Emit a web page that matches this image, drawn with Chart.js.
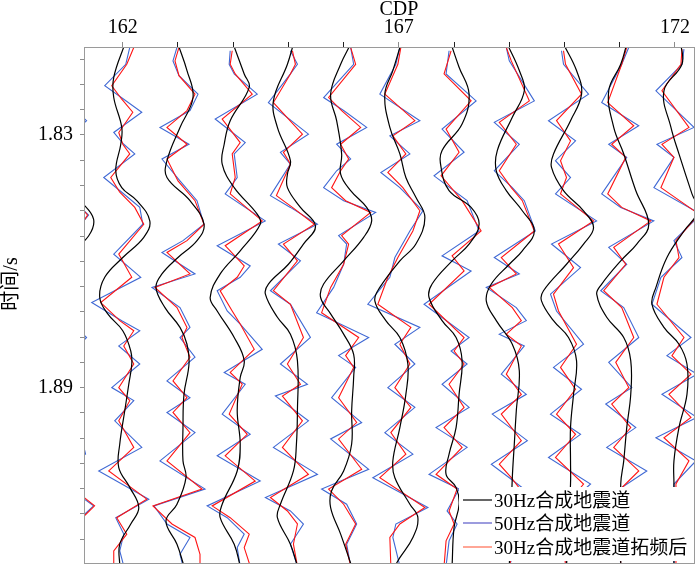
<!DOCTYPE html>
<html>
<head>
<meta charset="utf-8">
<script src="https://cdn.jsdelivr.net/npm/chart.js@4.4.1/dist/chart.umd.min.js"></script>
<style>
  html, body { margin: 0; padding: 0; background: #fff; }
  #wrap { width: 700px; height: 567px; }
</style>
</head>
<body>
<div id="wrap"><canvas id="chart" width="700" height="567"></canvas></div>
<script>
// CDP positions of the traces (161 only shows at the left edge)
const cdps = [161, 162, 163, 164, 165, 166, 167, 168, 169, 170, 171, 172];
const cdpTicks = [162, 163, 164, 165, 166, 167, 168, 169, 170, 171, 172];
const cdpLabels = [162, 167, 172];
const timeTicks = [1.812, 1.818, 1.824, 1.83, 1.836, 1.842, 1.848, 1.854, 1.86, 1.866,
  1.872, 1.878, 1.884, 1.89, 1.896, 1.902, 1.908, 1.914, 1.92, 1.926];
const timeLabels = [1.83, 1.89];

// each trace: [time ms, amplitude]
const black30 = [
  [[1808.4,0],[1836,-8],[1843,0],[1846,14],[1850,26],[1854,21],[1859,0],[1868,-22],[1877,0],[1890,5],[1910,-3],[1918,10],[1932.4,0]],
  [[1808.4,2],[1816.3,-9],[1821.1,-9],[1828.2,-1],[1832.2,-2],[1838.5,-7],[1842.5,-1],[1845.6,14],[1850.4,27],[1854.3,21],[1859.1,0],[1863.8,-18],[1868.6,-23],[1872.5,-15],[1876.5,0],[1881.3,8],[1884.4,9],[1889.2,6],[1895.5,2],[1903.4,-3],[1909,-4],[1913.7,7],[1918.5,16],[1922.4,8],[1927.2,-3],[1932.4,-3]],
  [[1808.4,0],[1814.7,9],[1821.1,15],[1828.2,2],[1836.1,-11],[1840.1,-11],[1845.6,12],[1851.2,26],[1855.1,19],[1859.1,0],[1863,-16],[1866.2,-22],[1871,-13],[1875.7,2],[1879.7,9],[1884.4,11],[1891.6,6],[1899.5,5],[1907.4,5],[1911.4,8],[1917.7,-1],[1921.7,-12],[1927.2,-1],[1932.4,6]],
  [[1808.4,0],[1815.5,11],[1818.7,16],[1826.6,-3],[1832.2,-9],[1836.9,-11],[1842.5,1],[1848.8,24],[1851.2,27],[1857.5,7],[1863,-13],[1868.6,-23],[1871.8,-16],[1878.1,1],[1883.6,11],[1887.6,7],[1895.5,4],[1903.4,7],[1909.8,4],[1917.7,-11],[1920.9,-13],[1927.2,1],[1932.4,7]],
  [[1808.4,5],[1813.2,-1],[1821.9,-15],[1828.2,-11],[1836.1,2],[1839.3,-1],[1842.5,-1],[1847.2,12],[1851.6,27],[1855.9,15],[1860.7,0],[1865.4,-20],[1867.8,-23],[1873.3,-11],[1877.3,2],[1883.6,9],[1895.5,9],[1903.4,8],[1909.8,5],[1917.7,-8],[1920.9,-11],[1927.2,2],[1932.4,9]],
  [[1808.4,7],[1813.2,-3],[1820.3,-13],[1826.6,-7],[1834.5,-2],[1839.3,-3],[1843.2,7],[1847.2,23],[1850.4,28],[1854.3,20],[1859.9,0],[1865.4,-20],[1868.6,-23],[1872.5,-13],[1877.3,0],[1882.1,10],[1887.6,10],[1895.5,8],[1903.4,8],[1909.8,0],[1914.5,-12],[1918.5,-13],[1924.8,-3],[1932.4,8]],
  [[1808.4,2],[1814.7,-6],[1820.3,-14],[1828.2,-9],[1834.5,1],[1840.1,7],[1844.8,17],[1849.6,26],[1855.9,17],[1859.9,1],[1866.2,-19],[1869.4,-24],[1874.1,-13],[1878.1,1],[1884.4,9],[1891.6,7],[1899.5,1],[1907.4,-6],[1911.4,-4],[1917.7,11],[1920.9,19],[1925.6,14],[1930.4,1],[1932.4,-4]],
  [[1808.4,-3],[1813.9,5],[1820.3,15],[1827.4,8],[1833.7,-12],[1837.7,-13],[1843.2,-5],[1847.2,17],[1851.2,25],[1855.9,15],[1859.9,-2],[1865.4,-22],[1868.6,-25],[1874.1,-12],[1878.1,2],[1883.6,8],[1891.6,5],[1899.5,2],[1905.8,-5],[1910.6,-8],[1913.7,2],[1917.7,5],[1923.2,0],[1932.4,-2]],
  [[1808.4,-2],[1814.7,10],[1819.5,15],[1825.8,3],[1833.7,-12],[1838.5,-13],[1843.2,-3],[1848,13],[1852.8,25],[1857.5,13],[1860.7,0],[1865.4,-18],[1869.4,-23],[1874.1,-13],[1879.7,3],[1886,10],[1895.5,7],[1903.4,5],[1911.4,3],[1919.3,2],[1932.4,0]],
  [[1808.4,-1],[1814.7,12],[1820.3,17],[1826.6,6],[1834.5,-11],[1837.7,-13],[1843.2,-1],[1848,19],[1852,29],[1855.9,19],[1860.7,2],[1867,-21],[1869.4,-23],[1874.1,-11],[1878.1,4],[1883.6,12],[1891.6,9],[1899.5,6],[1907.4,6],[1912.9,6],[1932.4,2]],
  [[1808.4,7],[1813.2,1],[1819.5,-11],[1828.2,-6],[1834.5,4],[1843.2,16],[1851.2,29],[1855.9,17],[1859.9,1],[1865.4,-18],[1867.8,-23],[1873.3,-13],[1878.1,4],[1883.6,11],[1891.6,11],[1899.5,7],[1907.4,4],[1912.9,1],[1932.4,1]],
  [[1808.4,6],[1813.2,7],[1819.5,-11],[1828.2,-4],[1834.5,4],[1844,17],[1848,23],[1852.8,9],[1859.1,-8],[1866.2,-19],[1870.2,-23],[1875.7,-11],[1879.7,4],[1884.4,12],[1891.6,12],[1899.5,4],[1907.4,-1],[1912.9,-1],[1932.4,-1]]
];

const blue50 = [
  [[1808.4,0],[1820,-10],[1826.6,19],[1833,-10],[1841,-15],[1849,21],[1858,-10],[1868,-25],[1878.1,19],[1884,-5],[1892,-10],[1898,10],[1905.8,18],[1911,-15],[1918.1,26],[1925,-5],[1932.4,0]],
  [[1809.2,7],[1813.2,3],[1818.3,-18],[1821.5,1],[1824.6,19],[1829.4,-9],[1832.2,1],[1834.5,12],[1840.1,-19],[1843.6,-1],[1847.2,17],[1851.2,20],[1858.3,-9],[1863.8,18],[1869.8,-31],[1874.1,-1],[1876.5,17],[1880.1,-4],[1884.4,17],[1890,-11],[1893.1,11],[1897.9,-8],[1904.2,19],[1909.8,-24],[1916.5,26],[1920.9,-7],[1924.8,1],[1928.8,-3],[1932.4,1]],
  [[1809.2,-1],[1812.4,-5],[1815.9,1],[1820.3,20],[1824.2,12],[1828.2,-18],[1832.2,11],[1835.7,-16],[1840.9,2],[1845.6,19],[1851.2,26],[1855.1,5],[1857.9,-16],[1863,17],[1866.2,-26],[1871,2],[1875.7,12],[1878.1,2],[1882.8,17],[1888.4,-11],[1892.4,12],[1895.9,-11],[1900.7,17],[1907.4,-18],[1914.1,27],[1918.1,-24],[1922.4,-11],[1925.6,12],[1929.6,2],[1932.4,5]],
  [[1810,-3],[1813.2,-4],[1815.5,1],[1820.3,24],[1826.2,-18],[1831.8,12],[1834.5,1],[1840.1,4],[1844,-8],[1850.4,32],[1856.3,-16],[1861.1,17],[1863.8,7],[1867,-16],[1871.8,-6],[1874.9,7],[1880.9,29],[1886.4,-9],[1889.2,12],[1896.3,-11],[1901.1,17],[1906.2,-16],[1912.2,27],[1918.1,-26],[1920.9,-6],[1924.8,11],[1928,4],[1932.4,7]],
  [[1810,2],[1813.2,9],[1815.5,2],[1822.3,-20],[1829.8,20],[1834.1,-8],[1836.9,2],[1844.4,-18],[1847.2,2],[1851.2,29],[1855.9,-10],[1859.9,12],[1867,-18],[1870.2,2],[1878.1,22],[1884.4,-8],[1889.2,19],[1892,-13],[1897.9,20],[1904.2,-15],[1910.6,29],[1916.1,-23],[1919.3,2],[1922.4,15],[1927.2,2],[1932.4,9]],
  [[1809.2,7],[1813.2,10],[1821.1,-20],[1824.2,0],[1828.2,23],[1832.2,-7],[1835.7,7],[1838.5,-7],[1842.5,-20],[1845.6,0],[1848.4,32],[1853.9,-5],[1855.9,3],[1860.7,0],[1866.2,-10],[1872.2,-27],[1878.1,25],[1882.4,-5],[1885.2,12],[1892.4,-12],[1898.3,18],[1902.2,-13],[1909.4,25],[1914.1,-22],[1917.7,3],[1922.4,13],[1927.2,3],[1932.4,7]],
  [[1809.2,1],[1813.2,-3],[1820.3,-19],[1826.6,21],[1830.2,-9],[1834.5,11],[1838.9,-18],[1842.5,1],[1848,24],[1852.8,11],[1859.1,-4],[1863.8,-9],[1870.2,-31],[1875.7,21],[1879.7,-4],[1884.4,16],[1890,-11],[1894.7,16],[1900.7,-14],[1905.8,14],[1911.4,-26],[1918.5,29],[1922.4,-3],[1925.6,-6],[1932.4,1]],
  [[1810,-5],[1815.5,-8],[1821.9,22],[1828.6,-12],[1834.1,10],[1839.7,-20],[1845.6,13],[1852.8,25],[1858.7,-12],[1862.3,17],[1870.2,-30],[1878.1,15],[1881.3,-3],[1884.4,13],[1889.2,-12],[1894.7,15],[1899.5,-18],[1904.2,13],[1910.6,-25],[1914.1,5],[1919.3,-7],[1922.4,3],[1926.4,-5],[1932.4,-8]],
  [[1809.2,-3],[1812.4,0],[1821.9,25],[1827,-15],[1832.2,10],[1838.5,-15],[1842.5,3],[1845.6,15],[1852.8,26],[1859.1,-15],[1863,10],[1866.2,-23],[1871,7],[1874.1,17],[1877.3,-10],[1880.1,15],[1886.8,-8],[1891.6,17],[1896.3,-17],[1902.6,18],[1908.2,-18],[1911.4,0],[1914.5,17],[1920.9,-13],[1925.6,10],[1932.4,0]],
  [[1810,-3],[1813.2,-1],[1820.3,24],[1826.6,-16],[1831.4,11],[1836.1,-9],[1840.1,6],[1844,-9],[1850.4,32],[1855.9,-13],[1861.5,16],[1867.8,-14],[1871.8,-8],[1879.7,19],[1885.2,-11],[1890.4,17],[1896.3,-14],[1901.1,16],[1906.6,-16],[1912.9,26],[1919.3,-4],[1932.4,2]],
  [[1809.2,9],[1813.2,2],[1822.3,-18],[1827.8,19],[1832.2,-11],[1835.3,7],[1844,-18],[1847.2,1],[1850.4,34],[1856.7,-11],[1860.7,7],[1867,-19],[1871,4],[1878.1,19],[1884,-11],[1890,12],[1893.9,-14],[1899.5,16],[1904.2,-13],[1909.8,27],[1914.5,-3],[1932.4,1]],
  [[1809.6,9],[1813.2,7],[1819.5,-19],[1828.2,19],[1832.2,-18],[1835.3,-1],[1842.5,-21],[1848.8,26],[1855.1,-1],[1859.1,7],[1863.8,-14],[1870.2,-23],[1878.1,16],[1882.4,-8],[1886.8,22],[1891.6,-13],[1897.1,22],[1901.9,-19],[1907.4,21],[1912.9,-1],[1932.4,-1]]
];

const red30x = [
  [[1808.4,0],[1820,-6],[1826.6,12],[1833,-6],[1841,-10],[1849,20],[1858,-5],[1868,-20],[1878.1,12],[1884,0],[1892,-5],[1898,6],[1905.8,10],[1911,-10],[1918.1,27],[1925,-3],[1932.4,0]],
  [[1809.2,11],[1813.2,4],[1818.3,-11],[1821.5,-1],[1824.6,10],[1829.4,-4],[1832.2,0],[1834.5,7],[1840.1,-12],[1843.6,-3],[1847.2,12],[1851.2,21],[1858.3,-4],[1863.8,9],[1869.8,-22],[1874.1,-3],[1876.5,11],[1880.1,1],[1884.4,11],[1890,-4],[1893.1,7],[1897.9,-4],[1904.2,11],[1909.8,-14],[1916.5,24],[1920.9,-6],[1924.8,4],[1928.8,-9],[1932.4,-9]],
  [[1809.2,1],[1812.4,-3],[1815.9,1],[1820.3,17],[1824.2,9],[1828.2,-11],[1832.2,9],[1835.7,-11],[1840.9,0],[1845.6,17],[1851.2,26],[1855.1,9],[1857.9,-11],[1863,12],[1866.2,-23],[1871,-1],[1875.7,9],[1878.1,4],[1882.8,12],[1888.4,-5],[1892.4,9],[1895.9,-5],[1900.7,12],[1907.4,-11],[1914.1,24],[1918.1,-25],[1922.4,-6],[1925.6,17],[1929.6,22],[1932.4,22]],
  [[1810,-1],[1813.2,-3],[1815.5,2],[1820.3,19],[1826.2,-11],[1831.8,7],[1834.5,-1],[1840.1,2],[1844,-3],[1850.4,29],[1856.3,-8],[1861.1,11],[1863.8,4],[1867,-13],[1871.8,-1],[1874.9,7],[1880.9,21],[1886.4,-3],[1889.2,9],[1896.3,-4],[1901.1,14],[1906.2,-8],[1912.2,22],[1918.1,-21],[1920.9,-3],[1924.8,16],[1928,11],[1932.4,17]],
  [[1810,4],[1813.2,7],[1815.5,2],[1822.3,-15],[1829.8,14],[1834.1,-5],[1836.9,2],[1844.4,-12],[1847.2,4],[1851.2,26],[1855.9,-5],[1859.9,9],[1867,-15],[1870.2,2],[1878.1,15],[1884.4,-1],[1889.2,12],[1892,-6],[1897.9,14],[1904.2,-6],[1910.6,20],[1916.1,-18],[1919.3,-1],[1922.4,9],[1927.2,5],[1932.4,9]],
  [[1809.2,7],[1813.2,12],[1821.1,-15],[1824.2,-2],[1828.2,17],[1832.2,-3],[1835.7,5],[1838.5,-3],[1842.5,-12],[1845.6,2],[1848.4,27],[1853.9,-2],[1855.9,5],[1860.7,0],[1866.2,-13],[1872.2,-22],[1878.1,15],[1882.4,2],[1885.2,10],[1892.4,-5],[1898.3,13],[1902.2,-5],[1909.4,18],[1914.1,-15],[1917.7,0],[1922.4,12],[1927.2,2],[1932.4,7]],
  [[1809.2,2],[1813.2,-1],[1820.3,-14],[1826.6,16],[1830.2,-6],[1834.5,7],[1838.9,-11],[1842.5,4],[1848,21],[1852.8,14],[1859.1,-1],[1863.8,-11],[1870.2,-21],[1875.7,12],[1879.7,1],[1884.4,11],[1890,-4],[1894.7,12],[1900.7,-8],[1905.8,7],[1911.4,-19],[1918.5,26],[1922.4,1],[1925.6,-9],[1932.4,-8]],
  [[1810,-3],[1815.5,-10],[1821.9,17],[1828.6,-8],[1834.1,5],[1839.7,-13],[1845.6,8],[1852.8,27],[1858.7,-2],[1862.3,10],[1870.2,-25],[1878.1,10],[1881.3,0],[1884.4,10],[1889.2,-5],[1894.7,10],[1899.5,-10],[1904.2,8],[1910.6,-18],[1914.1,3],[1919.3,-5],[1922.4,0],[1926.4,-8],[1932.4,-10]],
  [[1809.2,-3],[1812.4,2],[1821.9,20],[1827,-10],[1832.2,7],[1838.5,-10],[1842.5,2],[1845.6,13],[1852.8,25],[1859.1,-8],[1863,7],[1866.2,-20],[1871,3],[1874.1,12],[1877.3,-3],[1880.1,12],[1886.8,-3],[1891.6,12],[1896.3,-8],[1902.6,12],[1908.2,-10],[1911.4,2],[1914.5,12],[1920.9,-8],[1925.6,7],[1932.4,0]],
  [[1810,-1],[1813.2,1],[1820.3,17],[1826.6,-8],[1831.4,6],[1836.1,-4],[1840.1,2],[1844,-4],[1850.4,29],[1855.9,-6],[1861.5,9],[1867.8,-11],[1871.8,-6],[1879.7,12],[1885.2,-4],[1890.4,11],[1896.3,-8],[1901.1,11],[1906.6,-9],[1912.9,19],[1919.3,-3],[1932.4,1]],
  [[1809.2,7],[1813.2,2],[1822.3,-12],[1827.8,14],[1832.2,-8],[1835.3,6],[1844,-12],[1847.2,2],[1850.4,31],[1856.7,-6],[1860.7,6],[1867,-16],[1871,2],[1878.1,14],[1884,-4],[1890,9],[1893.9,-8],[1899.5,11],[1904.2,-6],[1909.8,19],[1914.5,-1],[1932.4,1]],
  [[1809.6,7],[1813.2,6],[1819.5,-13],[1828.2,14],[1832.2,-13],[1835.3,-1],[1842.5,-14],[1848.8,24],[1855.1,1],[1859.1,4],[1863.8,-11],[1870.2,-18],[1878.1,9],[1882.4,-3],[1886.8,16],[1891.6,-6],[1897.1,16],[1901.9,-11],[1907.4,14],[1912.9,1],[1932.4,1]]
];

const seriesNames = ['30Hz合成地震道', '50Hz合成地震道', '30Hz合成地震道拓频后'];
const gain = 1 / 55.16;   // CDP per amplitude unit
const serif = '"Liberation Serif", "Noto Sans CJK SC", serif';

function trace(cdp, knots, color, width, tension, order) {
  return {
    data: knots.map(k => ({ x: cdp + k[1] * gain, y: k[0] / 1000 })),
    showLine: true,
    borderColor: color,
    borderWidth: width,
    tension: tension,
    pointRadius: 0,
    order: order
  };
}

const datasets = [];
cdps.forEach((cdp, i) => {
  datasets.push(trace(cdp, blue50[i], '#3f68d4', 1.1, 0, 3));
  datasets.push(trace(cdp, red30x[i], '#ff1414', 1.1, 0, 2));
  datasets.push(trace(cdp, black30[i], '#000000', 1.2, 0.4, 1));
});

// frame, titles and legend box drawn on top
const decorations = {
  id: 'decorations',
  afterDraw(chart) {
    const ctx = chart.ctx;
    const a = chart.chartArea;
    ctx.save();

    // legend box in lower right corner
    const lx = a.right - 236, ly = a.bottom - 77;
    ctx.fillStyle = '#fff';
    ctx.fillRect(lx, ly, 236, 74);
    const cols = ['#000000', '#5a5ac8', '#ff6a50'];
    const rows = [13, 36, 60];
    ctx.font = '19px ' + serif;
    ctx.textBaseline = 'middle';
    ctx.textAlign = 'left';
    rows.forEach((r, i) => {
      ctx.strokeStyle = cols[i];
      ctx.lineWidth = 1.2;
      ctx.beginPath();
      ctx.moveTo(lx + 4, ly + r);
      ctx.lineTo(lx + 33, ly + r);
      ctx.stroke();
      ctx.fillStyle = '#000';
      ctx.fillText(seriesNames[i], lx + 35, ly + r + 2);
    });

    // plot frame
    ctx.strokeStyle = '#9a9a9a';
    ctx.lineWidth = 1;
    ctx.strokeRect(a.left + 0.5, a.top + 0.5, a.right - a.left - 1, a.bottom - a.top - 1);

    // axis titles
    ctx.fillStyle = '#000';
    ctx.textAlign = 'center';
    ctx.font = '20px ' + serif;
    ctx.fillText('CDP', chart.scales.x.getPixelForValue(167), 10);
    ctx.translate(12, 284);
    ctx.rotate(-Math.PI / 2);
    ctx.fillText('时间/s', 0, 0);
    ctx.restore();
  }
};

new Chart(document.getElementById('chart'), {
  type: 'scatter',
  data: { datasets: datasets },
  options: {
    responsive: false,
    animation: false,
    layout: { padding: { top: 0, left: 0, right: 5, bottom: 3 } },
    plugins: { legend: { display: false }, tooltip: { enabled: false } },
    scales: {
      x: {
        type: 'linear',
        position: 'top',
        min: 161.298,
        max: 172.363,
        afterBuildTicks: s => { s.ticks = cdpTicks.map(v => ({ value: v })); },
        afterFit: s => { s.height = 47; s.paddingLeft = 0; s.paddingRight = 0; },
        ticks: {
          autoSkip: false,
          maxRotation: 0,
          padding: 2,
          color: '#000',
          font: { family: serif, size: 20 },
          callback: v => cdpLabels.includes(v) ? String(v) : ''
        },
        grid: {
          drawOnChartArea: false,
          tickLength: 5,
          tickColor: c => (c.tick && cdpLabels.includes(c.tick.value)) ? '#8c8c8c' : '#222'
        },
        border: { display: false }
      },
      y: {
        type: 'linear',
        reverse: true,
        min: 1.8091,
        max: 1.9319,
        afterBuildTicks: s => { s.ticks = timeTicks.map(v => ({ value: v })); },
        afterFit: s => { s.width = 84; s.paddingTop = 0; s.paddingBottom = 0; },
        ticks: {
          autoSkip: false,
          padding: 7,
          color: '#000',
          font: { family: serif, size: 20 },
          callback: v => timeLabels.includes(v) ? v.toFixed(2) : ''
        },
        grid: { drawOnChartArea: false, tickLength: 4, tickColor: '#8c8c8c' },
        border: { display: false }
      }
    }
  },
  plugins: [decorations]
});
</script>
</body>
</html>
